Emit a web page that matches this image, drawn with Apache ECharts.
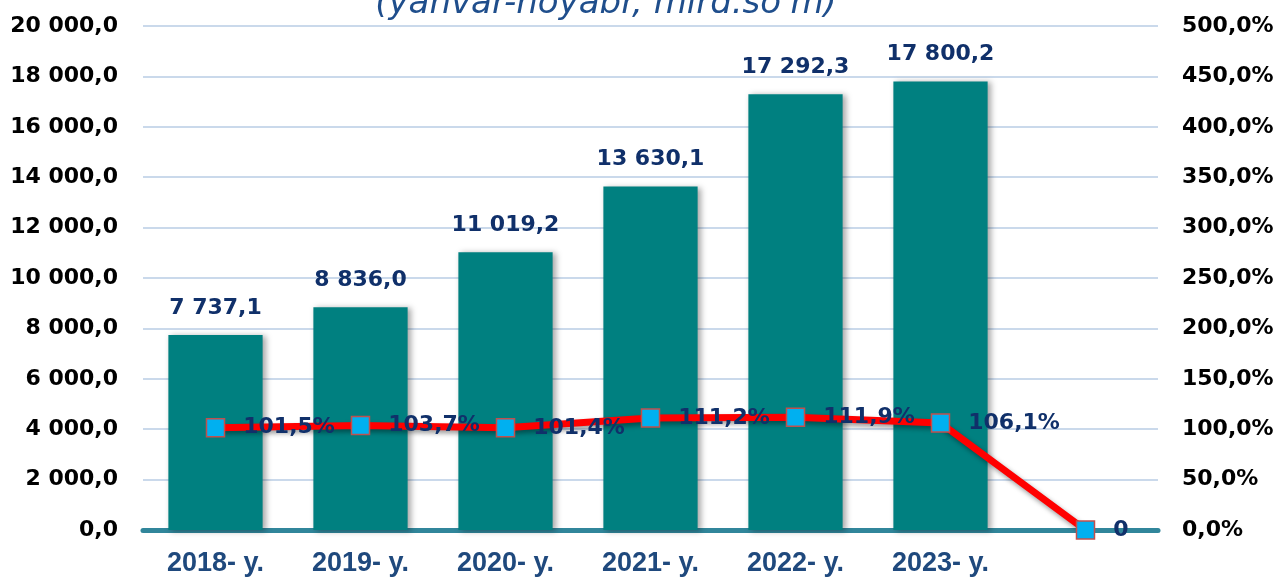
<!DOCTYPE html>
<html><head><meta charset="utf-8">
<script src="https://cdn.jsdelivr.net/npm/echarts@6/dist/echarts.min.js"></script>
<style>html,body{margin:0;padding:0;background:#fff}#c{width:1280px;height:577px}</style>
</head><body><div id="c"></div>
<script>
var categories = ['2018- y.', '2019- y.', '2020- y.', '2021- y.', '2022- y.', '2023- y.', ''];
var barValues = [7737.1, 8836.0, 11019.2, 13630.1, 17292.3, 17800.2, null];
var lineValues = [101.5, 103.7, 101.4, 111.2, 111.9, 106.1, 0];
var titleText = "(yanvar-noyabr, mlrd.so'm)";

function fmtNum(v, dec) {
  var s = Number(v).toFixed(dec);
  var parts = s.split('.');
  var ip = parts[0].replace(/\B(?=(\d{3})+(?!\d))/g, ' ');
  return parts.length > 1 ? ip + ',' + parts[1] : ip;
}

var wide = 'DejaVu Sans, Verdana, sans-serif';
var chart = echarts.init(document.getElementById('c'));
chart.setOption({
  animation: false,
  title: {
    text: titleText, left: 601, textAlign: 'center', top: -18,
    textStyle: {fontFamily: wide, fontStyle: 'italic', fontWeight: 'normal', fontSize: 34, color: '#1F4E8C'}
  },
  grid: {left: 143, right: 122, top: 26, bottom: 46},
  xAxis: {
    type: 'category', data: categories,
    axisLine: {lineStyle: {color: '#31869B', width: 5}},
    axisTick: {show: false},
    axisLabel: {margin: 20, fontFamily: 'Liberation Sans, Arial', fontWeight: 'bold', fontSize: 27, color: '#1F497D'}
  },
  yAxis: [{
    type: 'value', min: 0, max: 20000, interval: 2000,
    axisLine: {show: false}, axisTick: {show: false},
    splitLine: {lineStyle: {color: '#B9CDE5', width: 1.5}},
    axisLabel: {margin: 25, fontFamily: wide, fontWeight: 'bold', fontSize: 22, color: '#000',
      formatter: function (v) { return fmtNum(v, 1); }}
  }, {
    type: 'value', min: 0, max: 500, interval: 50,
    axisLine: {show: false}, axisTick: {show: false}, splitLine: {show: false},
    axisLabel: {margin: 24, fontFamily: wide, fontWeight: 'bold', fontSize: 22, color: '#000',
      formatter: function (v) { return fmtNum(v, 1) + '%'; }}
  }],
  series: [{
    type: 'bar', data: barValues, barWidth: '65%', yAxisIndex: 0,
    itemStyle: {color: '#008080', shadowColor: 'rgba(0,0,0,0.35)', shadowBlur: 6, shadowOffsetX: 3, shadowOffsetY: 1},
    label: {show: true, position: 'top', distance: 16, fontFamily: wide, fontWeight: 'bold', fontSize: 22, color: '#10306A',
      formatter: function (p) { return fmtNum(p.value, 1); }}
  }, {
    type: 'line', data: lineValues, yAxisIndex: 1, z: 5,
    symbol: 'rect', symbolSize: 18,
    lineStyle: {color: '#FF0000', width: 7, shadowColor: 'rgba(0,0,0,0.4)', shadowBlur: 5, shadowOffsetX: 2, shadowOffsetY: 3},
    itemStyle: {color: '#00B0F0', borderColor: '#C0504D', borderWidth: 1.5},
    label: {show: true, position: 'right', distance: 18, fontFamily: wide, fontWeight: 'bold', fontSize: 22, color: '#10306A',
      formatter: function (p) { return p.value === 0 ? '0' : fmtNum(p.value, 1) + '%'; }}
  }]
});
</script></body></html>
